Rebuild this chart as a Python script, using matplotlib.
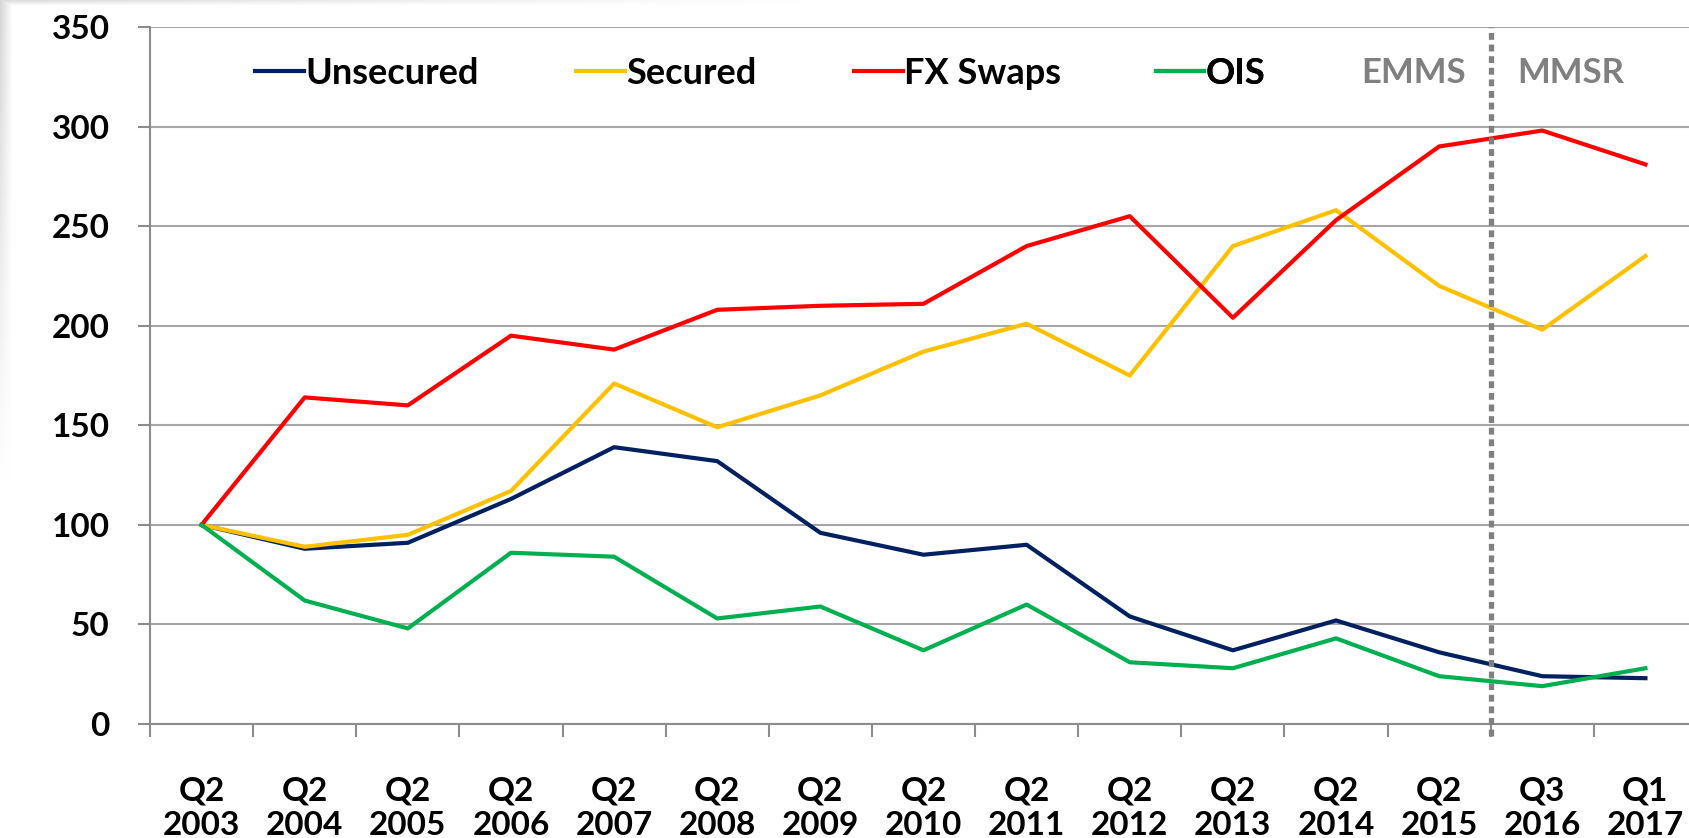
import numpy as np
import matplotlib
matplotlib.use('Agg')
import matplotlib.pyplot as plt

# quarters on the x axis
periods = ['Q2\n2003', 'Q2\n2004', 'Q2\n2005', 'Q2\n2006', 'Q2\n2007',
           'Q2\n2008', 'Q2\n2009', 'Q2\n2010', 'Q2\n2011', 'Q2\n2012',
           'Q2\n2013', 'Q2\n2014', 'Q2\n2015', 'Q3\n2016', 'Q1\n2017']

# index values (Q2 2003 = 100)
unsecured = [100, 88, 91, 113, 139, 132, 96, 85, 90, 54, 37, 52, 36, 24, 23]
secured = [100, 89, 95, 117, 171, 149, 165, 187, 201, 175, 240, 258, 220, 198, 235]
fx_swaps = [100, 164, 160, 195, 188, 208, 210, 211, 240, 255, 204, 253, 290, 298, 281]
ois = [100, 62, 48, 86, 84, 53, 59, 37, 60, 31, 28, 43, 24, 19, 28]

series_names = ['Unsecured', 'Secured', 'FX Swaps', 'OIS']
series_colors = ['#002060', '#FFC000', '#FF0000', '#00B050']

# survey change: EMMS up to Q2 2015, MMSR from Q3 2016
survey_labels = ['EMMS', 'MMSR']
survey_split = 12.5

FONT = 'Lato'
FS = 24
plt.rcParams['font.family'] = [FONT, 'DejaVu Sans']
plt.rcParams['font.weight'] = 'bold'

fig = plt.figure(figsize=(16.9, 8.38), dpi=100)

# faint grey shadow along the top and left edge
H, W = 838, 1690
yy, xx = np.mgrid[0:H, 0:W]
left = np.clip(1 - xx / 12.0, 0, 1) * np.clip(1 - yy / 480.0, 0, 1)
top = np.clip(1 - yy / 6.0, 0, 1) * np.clip(1 - xx / 800.0, 0, 1)
shade = 1 - 0.16 * np.maximum(left, top)
bg = fig.add_axes([0, 0, 1, 1])
bg.imshow(np.dstack([shade, shade, shade]), aspect='auto', interpolation='bilinear')
bg.axis('off')

ax = fig.add_axes([150 / 1690, 1 - 724 / 838, 1547 / 1690, 697 / 838])
ax.set_facecolor('none')

x = np.arange(len(periods))
for vals, name, col in zip([unsecured, secured, fx_swaps, ois], series_names, series_colors):
    ax.plot(x, vals, color=col, lw=3, label=name, solid_joinstyle='round', zorder=3)

ax.set_xlim(-0.5, len(periods) - 0.5)
ax.set_ylim(0, 350)
ax.set_yticks(np.arange(0, 351, 50))
ax.set_xticks(x)
ax.set_xticklabels(periods, fontsize=FS, fontweight='bold', linespacing=1.2)
ax.set_xticks(np.arange(-0.5, len(periods), 1), minor=True)
ax.tick_params(axis='x', which='major', length=0, pad=38)
ax.tick_params(axis='x', which='minor', length=9, width=1.5, color='#8C8C8C')
ax.tick_params(axis='y', length=9, width=1.5, color='#8C8C8C', pad=20, labelsize=FS)
for lab in ax.get_yticklabels():
    lab.set_fontweight('bold')

ax.grid(axis='y', color='#A6A6A6', lw=1.5, zorder=0)
for s in ['top', 'right']:
    ax.spines[s].set_visible(False)
for s in ['left', 'bottom']:
    ax.spines[s].set_color('#8C8C8C')
    ax.spines[s].set_linewidth(1.5)

ax.axvline(survey_split, ymin=-0.017, ymax=1, color='#808080', lw=3.8,
           linestyle=(0, (1.3, 0.9)), clip_on=False, zorder=4)
ax.text(11.75, 327, survey_labels[0], color='#808080', fontsize=FS + 1,
        fontweight='bold', ha='center', va='center')
ax.text(13.28, 327, survey_labels[1], color='#808080', fontsize=FS + 1,
        fontweight='bold', ha='center', va='center')

# one legend per entry so each sits where it does in the original
leg_x = [0.0679, 0.2754, 0.455, 0.650]
handles = ax.get_lines()[:4]
for h, lx in zip(handles, leg_x):
    lg = ax.legend([h], [h.get_label()], loc='center left', bbox_to_anchor=(lx, 0.934),
                   frameon=False, handlelength=1.35, handletextpad=0.05,
                   borderpad=0, borderaxespad=0,
                   prop={'family': FONT, 'weight': 'bold', 'size': 26})
    ax.add_artist(lg)

fig.savefig('out.png', dpi=100)
